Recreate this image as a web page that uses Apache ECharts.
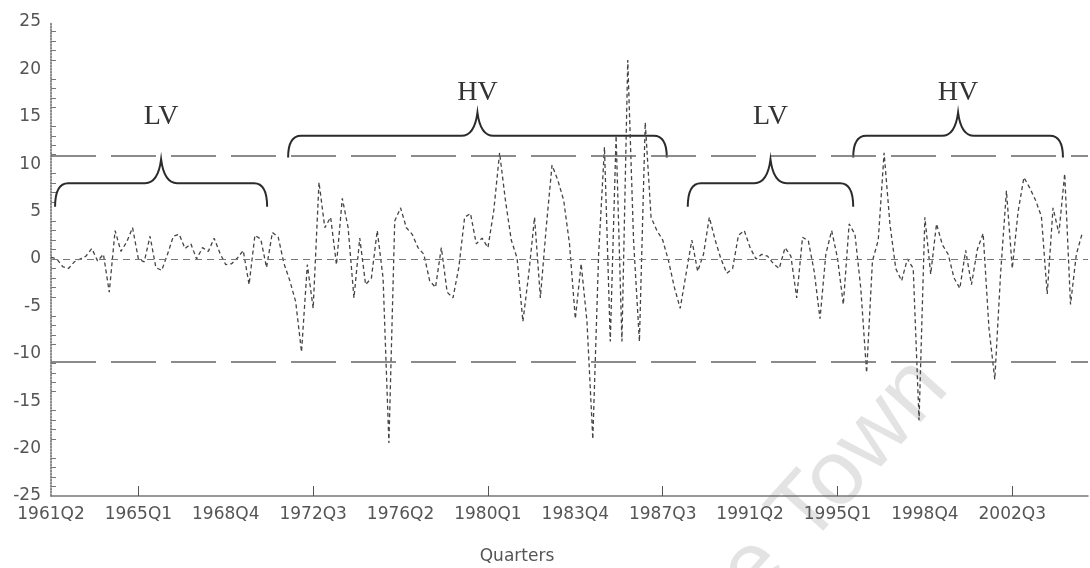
<!DOCTYPE html>
<html>
<head>
<meta charset="utf-8">
<script src="https://cdn.jsdelivr.net/npm/echarts@6/dist/echarts.min.js"></script>
<style>html,body{margin:0;background:#fff}#chart{width:1090px;height:568px}</style>
</head>
<body>
<div id="chart"></div>
<script>
// quarters 1961Q2 .. 2005Q4
var quarters = [];
for (var yr = 1961; yr <= 2005; yr++) {
    for (var q = 1; q <= 4; q++) {
        if (yr === 1961 && q === 1) continue;
        quarters.push(yr + 'Q' + q);
    }
}

// series, 1961Q2 .. 2005Q3
var values = [
    0.2, 0, -0.8, -1, -0.3, 0, 0.3, 1.1, -0.2, 0.5,
    -3.5, 3.0, 0.8, 1.8, 3.3, 0, -0.3, 2.4, -0.9, -1.2,
    0.5, 2.4, 2.6, 1.1, 1.6, 0, 1.2, 0.8, 2.2, 0.6,
    -0.6, -0.5, 0.1, 0.9, -2.7, 2.5, 2.1, -0.9, 2.8, 2.3,
    -0.5, -2.3, -4.5, -9.8, -0.6, -5.2, 8.1, 3.3, 4.4, -0.6,
    6.4, 3.3, -4.1, 2.2, -2.7, -2.0, 3.0, -2.0, -19.4, 4.0,
    5.4, 3.3, 2.6, 1.2, 0.5, -2.3, -3.0, 1.2, -3.5, -4.1,
    -0.9, 4.4, 4.8, 1.6, 2.2, 1.2, 5.1, 11.2, 6.2, 2.0,
    0.1, -6.6, -1.6, 4.4, -4.1, 3.3, 9.9, 8.3, 6.2, 1.6,
    -6.3, -0.5, -6.6, -19.0, 0.5, 11.8, -8.7, 13.0, -8.7, 21.0,
    1.9, -8.7, 14.4, 4.4, 3.0, 2.0, -0.2, -3.0, -5.2, -1.6,
    2.0, -1.3, 0.5, 4.4, 2.0, 0, -1.5, -1.0, 2.5, 3.0,
    1.2, 0, 0.5, 0.3, -0.5, -1.0, 1.2, 0.3, -4.1, 2.3,
    1.9, -1.3, -6.3, 0.5, 3.0, 0.1, -4.8, 3.7, 2.6, -3.1,
    -12.0, -0.2, 2.0, 11.2, 3.7, -1.0, -2.3, 0, -1.0, -17.0,
    4.4, -1.6, 3.7, 1.5, 0.5, -2.0, -3.1, 0.9, -2.7, 1.0,
    2.7, -7.3, -12.7, -1.5, 7.2, -1.0, 5.0, 8.6, 7.5, 6.2,
    4.5, -3.7, 5.4, 2.7, 9.0, -4.8, 0.5, 2.7
];

// volatility bands
var upperBand = 10.9;
var lowerBand = -10.8;

// regimes (quarter index where the brace starts / ends)
var regimeLabels = ['LV', 'HV', 'LV', 'HV'];
var regimeStart = [0.7, 40.7, 109.3, 137.7];
var regimeEnd = [37.1, 105.7, 137.7, 173.7];

var yTicks = [-25, 25, 5];

var chart = echarts.init(document.getElementById('chart'), null, {renderer: 'canvas'});

// brace heights [end, flat, peak, label] in y units
var braceLow = [5.5, 8.0, 10.5, 15.0];
var braceHigh = [10.7, 13.0, 15.45, 17.6];

function renderBrace(params, api) {
    var k = params.dataIndex;
    var lvl = regimeLabels[k] === 'LV' ? braceLow : braceHigh;
    var x0 = api.coord([0, 0])[0];
    var step = (api.coord([quarters.length - 1, 0])[0] - x0) / (quarters.length - 1);
    var py = function (v) { return api.coord([0, v])[1]; };
    var xa = x0 + regimeStart[k] * step, xb = x0 + regimeEnd[k] * step, xm = (xa + xb) / 2;
    var ye = py(lvl[0]), yf = py(lvl[1]), yp = py(lvl[2]);
    var r = 13, rp = 16;
    var d = 'M' + xa + ' ' + ye +
        ' Q' + xa + ' ' + yf + ' ' + (xa + r) + ' ' + yf +
        ' L' + (xm - rp) + ' ' + yf +
        ' Q' + (xm - 3) + ' ' + yf + ' ' + xm + ' ' + yp +
        ' Q' + (xm + 3) + ' ' + yf + ' ' + (xm + rp) + ' ' + yf +
        ' L' + (xb - r) + ' ' + yf +
        ' Q' + xb + ' ' + yf + ' ' + xb + ' ' + ye;
    return {
        type: 'group',
        children: [
            {type: 'path', shape: {pathData: d}, style: {fill: 'none', stroke: '#2b2b2b', lineWidth: 2}},
            {type: 'text', x: xm, y: py(lvl[3]), style: {
                text: regimeLabels[k], font: '28px "Liberation Serif"', fill: '#333',
                align: 'center', verticalAlign: 'middle'}}
        ]
    };
}

var option = {
    animation: false,
    backgroundColor: '#fff',
    grid: {left: 51, right: 2, top: 22, bottom: 72},
    xAxis: {
        type: 'category',
        data: quarters,
        boundaryGap: false,
        axisLine: {onZero: false, lineStyle: {color: '#777', width: 1.5}},
        axisTick: {
            inside: true, length: 10,
            interval: function (idx) { return idx % 30 === 15; },
            lineStyle: {color: '#555'}
        },
        axisLabel: {
            interval: function (idx) { return idx % 15 === 0 && idx < 170; },
            margin: 10,
            color: '#555', fontFamily: 'DejaVu Sans', fontSize: 17
        },
        splitLine: {show: false}
    },
    yAxis: {
        type: 'value',
        min: yTicks[0], max: yTicks[1], interval: yTicks[2],
        axisLine: {show: true, lineStyle: {color: '#666', type: 'dotted', width: 1.5}},
        axisTick: {inside: true, length: 9, lineStyle: {color: '#555'}},
        minorTick: {show: true, splitNumber: 5, length: 5, lineStyle: {color: '#777'}},
        axisLabel: {margin: 10, color: '#555', fontFamily: 'DejaVu Sans', fontSize: 17},
        splitLine: {show: false}
    },
    graphic: [
        {type: 'text', x: 932, y: 372, rotation: 48 * Math.PI / 180, z: -10, silent: true,
            style: {text: 'University of Cape Town', font: '92px "Liberation Sans"',
                fill: 'rgba(0,0,0,0.11)', align: 'right', verticalAlign: 'middle'}},
        {type: 'text', x: 517, y: 557,
            style: {text: 'Quarters', font: '17px "DejaVu Sans"', fill: '#555',
                align: 'center', verticalAlign: 'middle'}}
    ],
    series: [
        {
            name: 'series',
            type: 'line',
            data: values,
            showSymbol: false,
            lineStyle: {color: '#444', width: 1.3, type: [4, 3]},
            markLine: {
                silent: true,
                symbol: 'none',
                label: {show: false},
                data: [
                    {yAxis: upperBand, lineStyle: {color: '#666', width: 1.5, type: [45, 15]}},
                    {yAxis: lowerBand, lineStyle: {color: '#666', width: 1.5, type: [45, 15]}},
                    {yAxis: 0, lineStyle: {color: '#777', width: 1.2, type: [7, 5]}}
                ]
            }
        },
        {
            name: 'regimes',
            type: 'custom',
            silent: true,
            clip: false,
            data: regimeLabels.map(function (l, k) { return [k, 0]; }),
            renderItem: renderBrace
        }
    ]
};
chart.setOption(option);
</script>
</body>
</html>
